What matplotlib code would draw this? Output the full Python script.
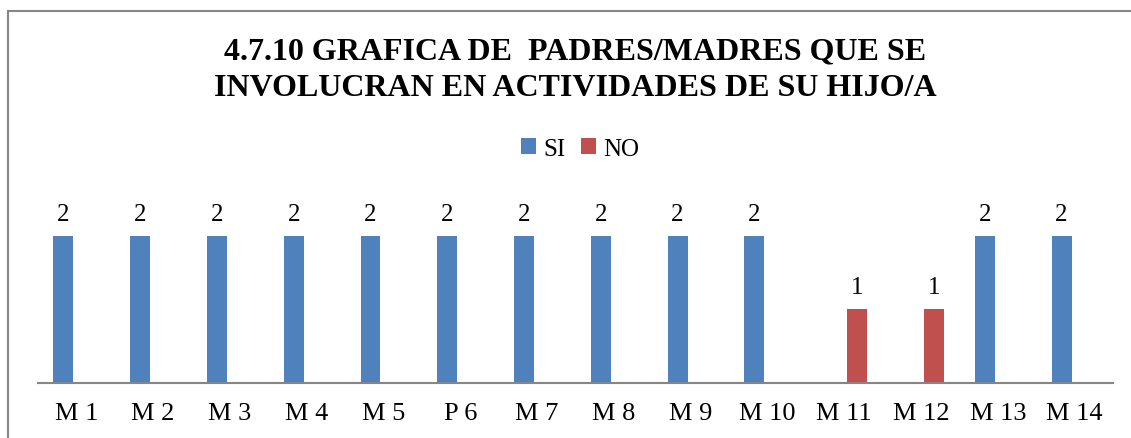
import matplotlib
matplotlib.use("Agg")
import matplotlib.pyplot as plt
import numpy as np
from matplotlib.patches import Rectangle

categories = ["M 1", "M 2", "M 3", "M 4", "M 5", "P 6", "M 7", "M 8", "M 9", "M 10",
              "M 11", "M 12", "M 13", "M 14"]
si_values = [2, 2, 2, 2, 2, 2, 2, 2, 2, 2, np.nan, np.nan, 2, 2]
no_values = [np.nan] * 10 + [1, 1] + [np.nan, np.nan]
series_names = ["SI", "NO"]
title = "4.7.10 GRAFICA DE  PADRES/MADRES QUE SE\nINVOLUCRAN EN ACTIVIDADES DE SU HIJO/A"

plt.rcParams['font.family'] = ['Liberation Serif', 'DejaVu Serif']

W, H = 1131, 439
fig = plt.figure(figsize=(W / 100, H / 100), dpi=100)

# outer chart frame (cropped on right/bottom)
frame = Rectangle((8 / W, -0.1), 1.2, 1 - 12 / H + 0.1, transform=fig.transFigure,
                  fill=False, edgecolor="#868686", linewidth=1.5)
fig.patches.append(frame)

ax = fig.add_axes([38 / W, 1 - 384 / H, (1113 - 38) / W, 184 / H])
x = np.arange(len(categories))
w = 0.26
off = 0.17
colors = ["#4F81BD", "#C0504D"]
b1 = ax.bar(x - off, si_values, w, color=colors[0], label=series_names[0])
b2 = ax.bar(x + off, no_values, w, color=colors[1], label=series_names[1])

for bars, vals in ((b1, si_values), (b2, no_values)):
    for rect, v in zip(bars, vals):
        if not np.isnan(v):
            ax.annotate(f"{int(v)}", (rect.get_x() + rect.get_width() / 2, v),
                        xytext=(0, 8), textcoords="offset points",
                        ha="center", va="bottom", fontsize=18)

ax.set_xlim(-0.5, len(categories) - 0.5)
ax.set_ylim(0, 2.503)
ax.set_xticks(x)
ax.set_xticklabels(categories, fontsize=19)
ax.tick_params(axis="x", length=0, pad=14)
ax.set_yticks([])
for s in ["top", "right", "left"]:
    ax.spines[s].set_visible(False)
ax.spines["bottom"].set_color("#868686")
ax.spines["bottom"].set_linewidth(1.5)
ax.patch.set_visible(False)

fig.text(575 / W, 1 - 70 / H, title, ha="center", va="center", fontsize=23,
         fontweight="bold", linespacing=1.35)

leg = fig.legend(handles=[b1, b2], loc="center", bbox_to_anchor=(580 / W, 1 - 150 / H),
                 ncol=2, frameon=False, fontsize=18, handlelength=0.6, handleheight=0.6,
                 handletextpad=0.3, columnspacing=0.6)

fig.savefig("out.png", dpi=100)
